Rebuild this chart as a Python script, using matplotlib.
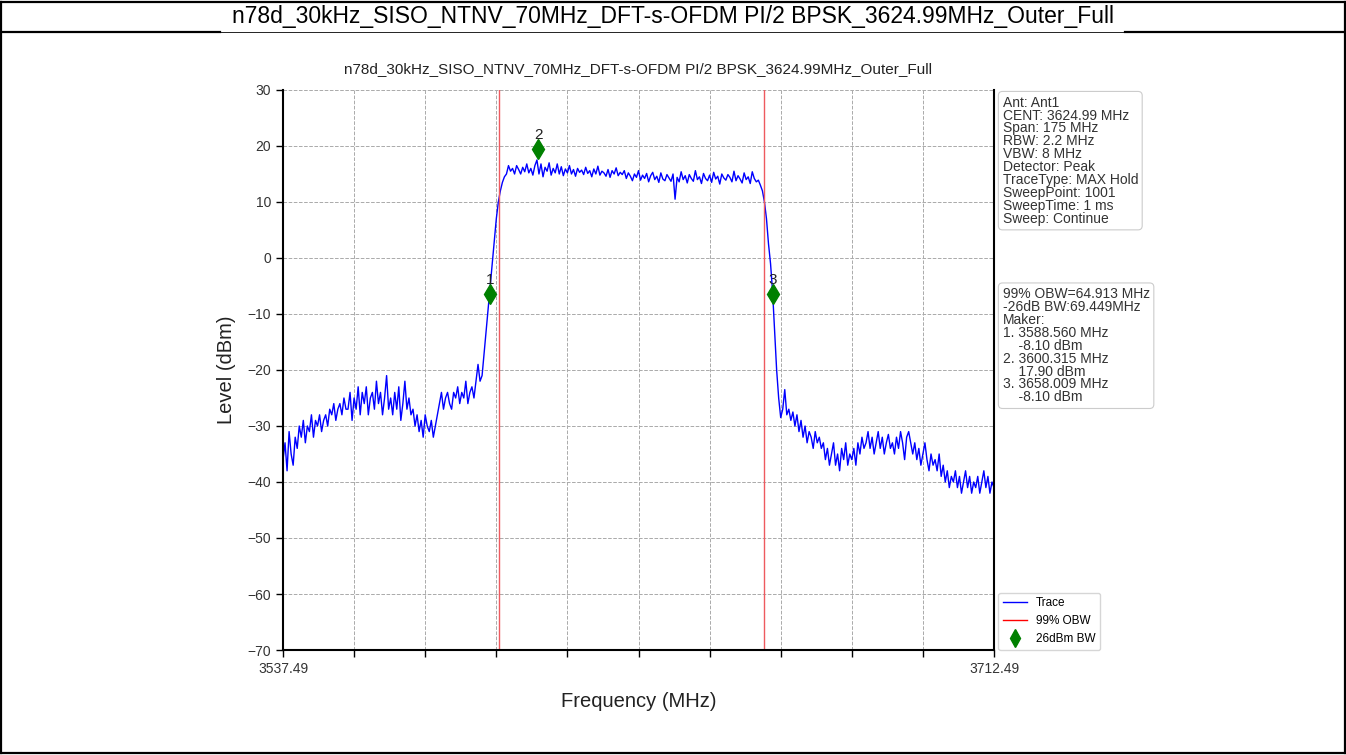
import numpy as np
import matplotlib
matplotlib.use("Agg")
import matplotlib.pyplot as plt
from matplotlib.lines import Line2D

# dane
title = "n78d_30kHz_SISO_NTNV_70MHz_DFT-s-OFDM PI/2 BPSK_3624.99MHz_Outer_Full"
f_start = 3537.49
f_stop = 3712.49

# poziom sygnalu co 0.5 MHz (351 punktow)
level = [
    -36, -33, -38, -31, -35, -37, -32, -34, -30, -32,
    -29, -33, -30, -31, -28, -32, -29, -30, -28, -31,
    -29, -28, -30, -27, -28, -26, -29, -27, -26, -28,
    -25, -27, -27, -24, -29, -25, -27, -23, -28, -24,
    -26, -23, -28, -25, -24, -27, -22, -26, -24, -28,
    -25, -21, -27, -25, -28, -24, -27, -23, -29, -26,
    -22, -27, -25, -28, -27, -30, -28, -31, -29, -32,
    -28, -30, -31, -29, -32, -30, -28, -26, -24, -27,
    -25, -24, -26, -27, -24, -25, -23, -26, -24, -25,
    -22, -26, -24, -23, -25, -22, -19, -22, -21, -17,
    -13, -9, -5, -1, 3, 7, 10, 12, 13.5, 14.5,
    15, 16.5, 15.5, 16, 15, 16.5, 15.8, 15, 16.2, 15.4,
    16.8, 15.2, 16, 14.8, 16.5, 17.5, 15, 16.8, 14.5, 16.2,
    15.5, 17, 14.8, 16, 15.2, 16.8, 15, 16.3, 14.7, 15.9,
    15.2, 16.5, 15, 15.8, 14.6, 16, 15.3, 15.7, 14.9, 16.2,
    15.1, 15.6, 14.5, 15.9, 15, 16.4, 14.8, 15.5, 15.2, 14.6,
    15.8, 14.4, 15.6, 15, 16.1, 14.7, 15.3, 14.9, 15.6, 14.2,
    15.2, 14.6, 13.8, 15, 14.4, 15.6, 13.9, 14.8, 14.2, 15.1,
    13.6, 14.7, 15.3, 14, 14.6, 13.5, 15.2, 14.1, 13.8, 14.9,
    14.3, 13.7, 15, 10.5, 14.4, 13.6, 15.4, 14, 14.7, 13.4,
    14.9, 14.2, 13.7, 15.6, 14, 14.5, 13.3, 15.1, 14.2, 13.8,
    14.8, 13.5, 15.3, 14.1, 14.6, 13.2, 15, 14.3, 13.9, 14.9,
    14.4, 13.6, 15.5, 13.8, 14.7, 14.1, 13.4, 15.2, 14, 14.5,
    13.3, 15.4, 14.2, 13.6, 13.9, 13, 12, 10, 7, 2.5,
    -1, -6, -13, -20, -25, -28.5, -27, -23.5, -28, -27,
    -29, -27.5, -30, -28, -31, -29, -32, -30, -33, -31,
    -32, -34, -31, -33, -32, -34, -33, -36, -34, -37,
    -35, -33, -37, -35, -38, -34, -36, -33, -37, -35,
    -36, -34, -37, -33, -35, -32, -34, -33, -31, -34,
    -32, -35, -33, -31, -34, -32, -35, -33, -31.5, -34,
    -33, -35, -32, -34, -31, -33, -36, -32, -31, -33,
    -35, -33, -36, -34, -37, -35, -33, -36, -38, -35,
    -37, -36, -38, -35, -39, -37, -40, -38, -41, -39,
    -40, -38, -41, -39, -42, -40, -38, -41, -39, -42,
    -40, -41, -39, -42, -40, -38, -41, -39, -42, -40,
    -41,
]

obw_lines = [3590.6, 3655.9]
marker_freq = [3588.56, 3600.315, 3658.009]
marker_level = [-6.5, 19.5, -6.5]
marker_names = ["1", "2", "3"]

y_ticks = [-70, -60, -50, -40, -30, -20, -10, 0, 10, 20, 30]
x_tick_labels = ["3537.49"] + [""] * 9 + ["3712.49"]

info_text = ("Ant: Ant1\nCENT: 3624.99 MHz\nSpan: 175 MHz\nRBW: 2.2 MHz\n"
             "VBW: 8 MHz\nDetector: Peak\nTraceType: MAX Hold\n"
             "SweepPoint: 1001\nSweepTime: 1 ms\nSweep: Continue")
marker_text = ("99% OBW=64.913 MHz\n-26dB BW:69.449MHz\nMaker:\n"
               "1. 3588.560 MHz\n    -8.10 dBm\n2. 3600.315 MHz\n    17.90 dBm\n"
               "3. 3658.009 MHz\n    -8.10 dBm")

plt.rcParams['font.family'] = ['Liberation Sans', 'DejaVu Sans']

W, H = 1346, 755
fig = plt.figure(figsize=(W / 100, H / 100), dpi=100)


def fx(x):
    return x / W


def fy(y):
    return 1 - y / H


# ramka tabeli
def frame_line(x0, y0, x1, y1, lw=1.6):
    fig.add_artist(Line2D([fx(x0), fx(x1)], [fy(y0), fy(y1)],
                          transform=fig.transFigure, color='black', lw=lw))


frame_line(0, 2, W, 2)
frame_line(1, 2, 1, 753)
frame_line(1345, 2, 1345, 753)
frame_line(0, 753, W, 753)
frame_line(0, 32, 220, 32)
frame_line(1125, 32, W, 32)
frame_line(220, 32, 1125, 32, lw=0.6)
fig.text(fx(673), fy(17), title, ha='center', va='center', fontsize=16.5)

ax = fig.add_axes([fx(283), fy(650), (994 - 283) / W, (650 - 90) / H])

freq = np.linspace(f_start, f_stop, len(level))
ax.plot(freq, level, color='blue', lw=1)
for f in obw_lines:
    ax.axvline(f, color='#ee5a5f', lw=1)
ax.plot(marker_freq, marker_level, 'd', color='green', ms=10, ls='none')
for f, l, n in zip(marker_freq, marker_level, marker_names):
    ax.annotate(n, (f, l), xytext=(0, 5), textcoords='offset points',
                ha='center', va='bottom', fontsize=11, color='#222222')

ax.set_xlim(f_start, f_stop)
ax.set_ylim(-70, 30)
ax.set_xticks(np.linspace(f_start, f_stop, 11))
ax.set_xticklabels(x_tick_labels)
ax.set_yticks(y_ticks)
ax.tick_params(labelsize=10, labelcolor='#333333', length=5, width=1)
ax.grid(True, color='#aaaaaa', ls='--', lw=0.7)
ax.spines['top'].set_visible(False)
for s in ['left', 'bottom', 'right']:
    ax.spines[s].set_linewidth(1.5)

ax.set_title(title, fontsize=11, pad=12, color='#222222')
ax.set_xlabel('Frequency (MHz)', fontsize=14.5, labelpad=12, color='#222222')
ax.set_ylabel('Level (dBm)', fontsize=14.5, labelpad=8, color='#222222')

# ramki z opisem
box = dict(boxstyle='round,pad=0.3', fc='white', ec='#cccccc', lw=0.8)
ax.text(1.012, 0.99, info_text, transform=ax.transAxes, va='top', ha='left',
        fontsize=10, color='#333333', linespacing=0.9, bbox=box)
ax.text(1.012, 0.648, marker_text, transform=ax.transAxes, va='top', ha='left',
        fontsize=10, color='#333333', linespacing=0.9, bbox=box)

handles = [Line2D([], [], color='blue', lw=1),
           Line2D([], [], color='red', lw=1),
           Line2D([], [], marker='d', color='green', ls='none', ms=9)]
ax.legend(handles, ['Trace', '99% OBW', '26dBm BW'], loc='lower left',
          bbox_to_anchor=(1.006, 0.0), fontsize=8.5, edgecolor='#cccccc',
          fancybox=True, borderaxespad=0.0)

fig.savefig('out.png', dpi=100)
